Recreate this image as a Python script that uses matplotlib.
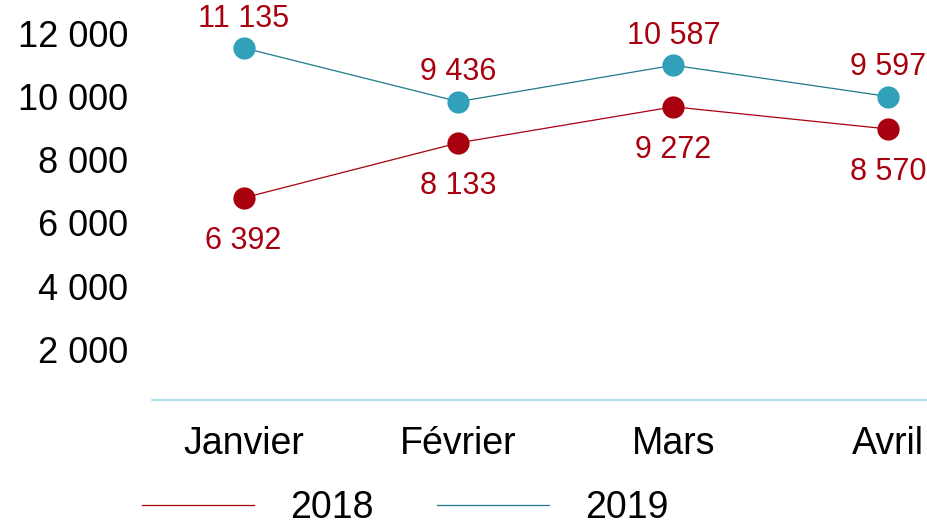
import numpy as np
import matplotlib.pyplot as plt
import matplotlib.transforms as mtransforms

# %% data
months = ['Janvier', 'Février', 'Mars', 'Avril']
ventes_2018 = [6392, 8133, 9272, 8570]
ventes_2019 = [11135, 9436, 10587, 9597]
yticks = [2000, 4000, 6000, 8000, 10000, 12000]

# %% style
plt.rcParams['font.family'] = ['Liberation Sans', 'DejaVu Sans']
red = '#A8000F'
teal_marker = '#31A1B9'
teal_line = '#1E7A8A'
axis_col = '#9ED9E6'

def fmt(v):
    return f'{v:,}'.replace(',', ' ')

fig = plt.figure(figsize=(9.27, 5.26), dpi=100)
ax = fig.add_axes([152 / 927, 1 - 400 / 526, (927 - 152) / 927, 400 / 526])

x = np.arange(len(months))

ax.plot(x, ventes_2018, color=red, lw=0.9, label='2018', zorder=2)
ax.plot(x, ventes_2019, color=teal_line, lw=0.9, label='2019', zorder=2)
ax.plot(x, ventes_2018, 'o', color=red, ms=16, mec='none', clip_on=False, zorder=3)
ax.plot(x, ventes_2019, 'o', color=teal_marker, ms=16, mec='none', clip_on=False, zorder=3)

# data labels
for xi, v in zip(x, ventes_2019):
    ax.annotate(fmt(v), (xi, v), xytext=(0, 21), textcoords='offset points',
                ha='center', va='center', fontsize=22, color=red)
for xi, v in zip(x, ventes_2018):
    ax.annotate(fmt(v), (xi, v), xytext=(0, -31), textcoords='offset points',
                ha='center', va='center', fontsize=22, color=red)

ax.set_xlim(-0.426, 3.18)
ax.set_ylim(0, 12650)
ax.set_xticks(x)
ax.set_xticklabels(months, fontsize=27)
ax.set_yticks(yticks)
ax.set_yticklabels([fmt(t) for t in yticks], fontsize=26)
ax.tick_params(axis='both', length=0)
ax.tick_params(axis='y', pad=17)
ax.tick_params(axis='x', pad=19)

# tick labels sit a little below their values in the reference
off = mtransforms.ScaledTranslation(0, -9 / 72, fig.dpi_scale_trans)
for lbl in ax.get_yticklabels():
    lbl.set_transform(lbl.get_transform() + off)

for s in ['top', 'right', 'left']:
    ax.spines[s].set_visible(False)
ax.spines['bottom'].set_color(axis_col)
ax.spines['bottom'].set_linewidth(1.2)

fig.legend(loc='center', bbox_to_anchor=(405 / 927, 1 - 508 / 526), ncol=2,
           frameon=False, fontsize=27, handlelength=3.0, handletextpad=0.95,
           columnspacing=1.7, borderpad=0, borderaxespad=0)

plt.savefig('out.png', dpi=100)
